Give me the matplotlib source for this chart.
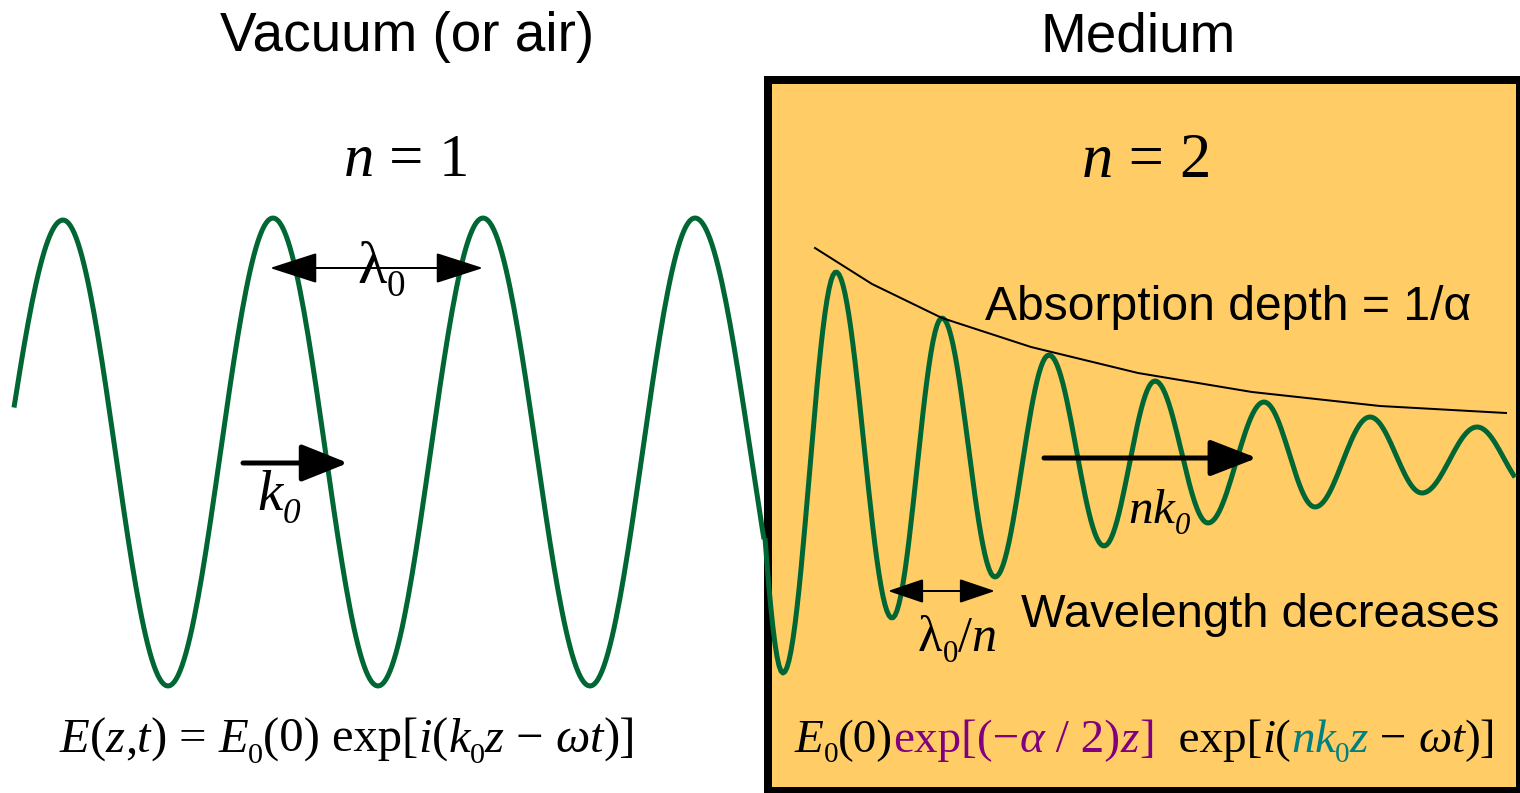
import numpy as np
import matplotlib.pyplot as plt
from matplotlib.patches import Rectangle

W, H = 1520, 793
SERIF = 'Liberation Serif'
SANS = 'Liberation Sans'
GREEN = '#006633'
PURPLE = '#800080'
TEAL = '#008080'
BOX = '#FFCC66'

# wave extrema (pixels, y down); first/last entries are guides outside the drawn span
vac_x = [-49, 63, 168, 273, 378, 483, 590, 695, 806]
vac_y = [686, 220, 686, 218, 686, 218, 686, 218, 686]
vac_span = (14, 763)

med_x = [734, 783, 836, 892, 942, 995, 1049, 1104, 1155, 1208, 1264, 1315, 1370, 1422, 1477, 1531]
med_y = [220, 673, 272, 618, 318, 577, 355, 546, 381, 523, 402, 507, 417, 493, 427, 490]
med_span = (765, 1514)

# absorption envelope
env_x = [815, 872, 942, 1031, 1138, 1252, 1380, 1506]
env_y = [248, 284, 318, 347, 373, 392, 406, 413]

# arrows: x0, x1, y, line px, head length px, head width px, double
arrows = [
    (270, 483, 268, 2, 42, 27, True),    # lambda0
    (243, 348, 463, 5, 40, 32, False),   # k0
    (1044, 1257, 458, 5, 40, 31, False), # nk0
    (888, 995, 591, 2, 31, 21, True),    # lambda0/n
]

plt.rcParams['font.family'] = [SANS, 'DejaVu Sans']

fig = plt.figure(figsize=(15.2, 7.93), dpi=100)
ax = fig.add_axes([0, 0, 1, 1])
ax.set_xlim(0, W)
ax.set_ylim(H, 0)
ax.axis('off')
rend = fig.canvas.get_renderer()
PX = 0.72  # points per pixel


def wave(xe, ye, span, step=2.0):
    xs = np.arange(span[0], span[1] + step, step, dtype=float)
    ys = np.zeros_like(xs)
    for i in range(len(xe) - 1):
        m = (xs >= xe[i]) & (xs <= xe[i + 1])
        t = (xs[m] - xe[i]) / (xe[i + 1] - xe[i])
        ys[m] = ye[i] + (ye[i + 1] - ye[i]) * (1 - np.cos(np.pi * t)) / 2
    return xs, ys


def text_width(s, **kw):
    t = ax.text(0, 0, '|' + s + '|', **kw)
    b = ax.text(0, 0, '||', **kw)
    w = t.get_window_extent(rend).width - b.get_window_extent(rend).width
    t.remove()
    b.remove()
    return w


SUB = 0.62


def run(pieces, x, y, width, ha='center', base=30):
    def widths(size):
        return [text_width(s, fontsize=size * (SUB if sub else 1), family=SERIF, style=st)
                for s, st, col, sub in pieces]
    size = base * width / sum(widths(base))
    ws = widths(size)
    cx = x - sum(ws) / 2 if ha == 'center' else x
    for (s, st, col, sub), w in zip(pieces, ws):
        dy = size / PX * 0.22 if sub else 0
        ax.text(cx, y + dy, s, fontsize=size * (SUB if sub else 1), family=SERIF,
                style=st, color=col, va='baseline', ha='left')
        cx += w


# medium box
ax.add_patch(Rectangle((767.5, 79.5), 752, 711, facecolor=BOX, edgecolor='black',
                       lw=8 * PX, zorder=1))

# waves
for xe, ye, span in [(vac_x, vac_y, vac_span), (med_x, med_y, med_span)]:
    xs, ys = wave(xe, ye, span)
    ax.plot(xs, ys, color=GREEN, lw=5 * PX, solid_capstyle='butt', zorder=3)

ax.plot(env_x, env_y, color='black', lw=2 * PX, zorder=3)

for x0, x1, y, lw, hl, hw, both in arrows:
    style = '<|-|>' if both else '-|>'
    ax.annotate('', xy=(x1, y), xytext=(x0, y), zorder=4,
                arrowprops=dict(arrowstyle=f'{style},head_length={hl * PX},head_width={hw / 2 * PX}',
                                lw=lw * PX, color='black', shrinkA=0, shrinkB=0,
                                mutation_scale=1))

# titles and labels
ax.text(407, 51, 'Vacuum (or air)', fontsize=39.5, family=SANS, ha='center', va='baseline')
ax.text(1138, 51, 'Medium', fontsize=39.5, family=SANS, ha='center', va='baseline')
ax.text(985, 320, 'Absorption depth = 1/α', fontsize=34.6, family=SANS, ha='left', va='baseline')
ax.text(1021, 627, 'Wavelength decreases', fontsize=34, family=SANS, ha='left', va='baseline')

k, it, rm = 'black', 'italic', 'normal'
run([('n', it, k, False), (' = ', rm, k, False), ('1', rm, k, False)], 406, 176, 125)
run([('n', it, k, False), (' = ', rm, k, False), ('2', rm, k, False)], 1146, 177, 129)
run([('λ', rm, k, False), ('0', rm, k, True)], 381, 283, 48)
run([('k', it, k, False), ('0', it, k, True)], 257, 510, 43, ha='left')
run([('n', it, k, False), ('k', it, k, False), ('0', it, k, True)], 1128, 523, 62, ha='left')
run([('λ', rm, k, False), ('0', rm, k, True), ('/', rm, k, False), ('n', it, k, False)],
    918, 651, 79, ha='left')

# equations
run([('E', it, k, False), ('(', rm, k, False), ('z', it, k, False), (',', rm, k, False),
     ('t', it, k, False), (')', rm, k, False), (' = ', rm, k, False), ('E', it, k, False),
     ('0', rm, k, True), ('(0) exp[', rm, k, False), ('i', it, k, False), ('(', rm, k, False),
     ('k', it, k, False), ('0', rm, k, True), ('z', it, k, False), (' − ', rm, k, False),
     ('ω', it, k, False), ('t', it, k, False), (')]', rm, k, False)],
    60, 752, 576, ha='left')
run([('E', it, k, False), ('0', rm, k, True), ('(0)', rm, k, False),
     ('exp[(−', rm, PURPLE, False), ('α', it, PURPLE, False), (' / 2)', rm, PURPLE, False),
     ('z', it, PURPLE, False), (']', rm, PURPLE, False), ('  exp[', rm, k, False),
     ('i', it, k, False), ('(', rm, k, False), ('n', it, TEAL, False), ('k', it, TEAL, False),
     ('0', rm, TEAL, True), ('z', it, TEAL, False), (' − ', rm, k, False),
     ('ω', it, k, False), ('t', it, k, False), (')]', rm, k, False)],
    795, 752, 700, ha='left')

fig.savefig('out.png', dpi=100)
